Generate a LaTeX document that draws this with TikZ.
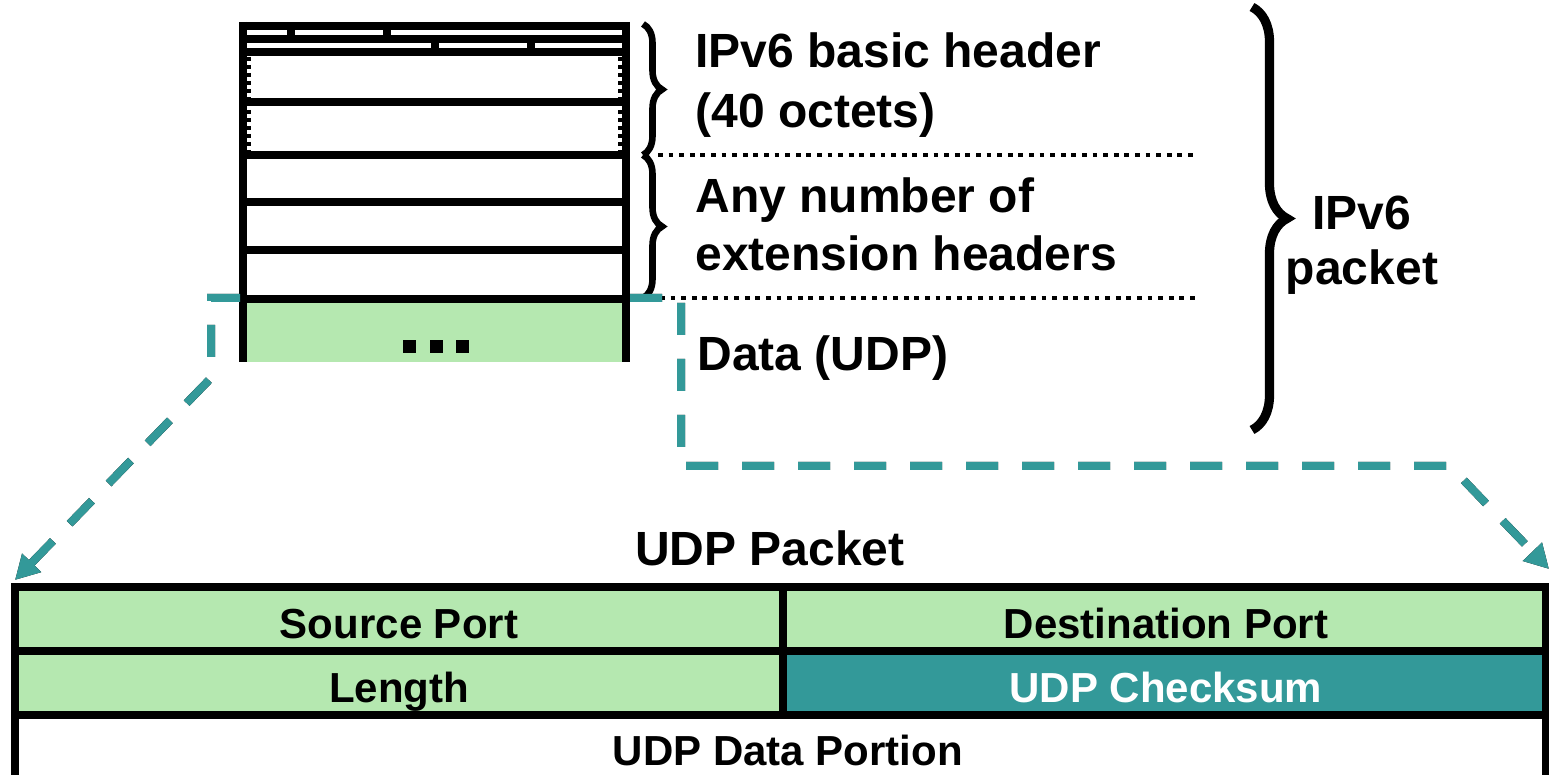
\documentclass[tikz,border=0pt]{standalone}
\usepackage{fontspec}
\setmainfont{Liberation Sans}
\usetikzlibrary{arrows.meta,decorations.pathreplacing}
\definecolor{udpgreen}{HTML}{B5E8B0}
\definecolor{udpteal}{HTML}{339999}

\begin{document}
\begin{tikzpicture}[x=0.5pt,y=-0.5pt,
  bigtext/.style={font=\fontsize{24pt}{28pt}\selectfont\bfseries, inner sep=0pt, anchor=base west},
  celltext/.style={font=\fontsize{21pt}{25pt}\selectfont\bfseries, inner sep=0pt, anchor=base},
  rule/.style={line width=4pt},
  skipped/.style={line width=2pt, dash pattern=on 2pt off 2pt},
  dotline/.style={line width=2.4pt, dash pattern=on 2.4pt off 2.9pt},
  smallbrace/.style={line width=3.3pt, decorate, decoration={brace, amplitude=9.5pt}},
  bigbrace/.style={line width=4.6pt, decorate, decoration={brace, amplitude=17.5pt}},
  zoomline/.style={line width=4pt, dash pattern=on 16pt off 12pt, line join=miter},
  zoomtip/.style={-{Triangle[length=12pt,width=12.5pt]}}
]
\useasboundingbox (0,0) rectangle (1549,775);

% ---------- IPv6 header stack ----------
\fill[udpgreen] (247,303) rectangle (622,362);
\draw[rule] (243,22) -- (243,362);
\draw[rule] (626,22) -- (626,362);
\foreach \yy in {26,39.5,52.5,102.5,155.5,202,250,299}
  \draw[rule] (239,\yy) -- (630,\yy);
% field separators in the first two header words
\draw[rule] (291,26) -- (291,39.5);
\draw[rule] (387,26) -- (387,39.5);
\draw[rule] (435,39.5) -- (435,52.5);
\draw[rule] (531,39.5) -- (531,52.5);
% elided rows of the basic header
\foreach \xx in {249,620} {
  \draw[skipped] (\xx,57) -- (\xx,98);
  \draw[skipped] (\xx,110) -- (\xx,151);
}
% ellipsis in the data row
\foreach \xx in {403,429.5,456}
  \fill (\xx,340) rectangle ++(13,13);

% ---------- braces and separators ----------
\draw[smallbrace] (643,24) -- (643,155);
\draw[smallbrace] (643,155) -- (643,298);
\draw[bigbrace] (1252,7) -- (1252,430);
\draw[dotline] (658,155) -- (1197,155);
\draw[dotline] (660,298) -- (1197,298);

% ---------- labels ----------
\node[bigtext] (hdrA) at (695,68) {IPv6 basic header};
\node[bigtext] (hdrB) at (695,128) {(40 octets)};
\node[bigtext] (extA) at (695,213) {Any number of};
\node[bigtext] (extB) at (695,271) {extension headers};
\node[bigtext] (data) at (697,371) {Data (UDP)};
\node[bigtext, anchor=base] (pktA) at (1362,230) {IPv6};
\node[bigtext, anchor=base] (pktB) at (1362,285) {packet};

% ---------- UDP packet table ----------
\fill[udpgreen] (15,587) rectangle (1545.5,651);
\fill[udpgreen] (15,651) rectangle (783,715);
\fill[udpteal] (783,651) rectangle (1545.5,715);
\draw[rule] (11,587) -- (1549.5,587);
\draw[rule] (11,651) -- (1549.5,651);
\draw[rule] (11,715) -- (1549.5,715);
\draw[rule] (15,583) -- (15,780);
\draw[rule] (1545.5,583) -- (1545.5,780);
\draw[rule] (783,587) -- (783,715);

\node[bigtext, anchor=base] (title) at (770,565) {UDP Packet};
\node[celltext] (src) at (399,638) {Source Port};
\node[celltext] (dst) at (1166,638) {Destination Port};
\node[celltext] (len) at (399,702) {Length};
\node[celltext, text=white] (chk) at (1166,702) {UDP Checksum};
\node[celltext] (payload) at (788,765) {UDP Data Portion};

% ---------- zoom-in connectors ----------
\coordinate (sL) at (240,298);
\coordinate (cLa) at (211,298);
\coordinate (cLb) at (211,378);
\coordinate (tL) at (15,580);
\coordinate (sR) at (630,298);
\coordinate (cRa) at (681,298);
\coordinate (cRb) at (681,466);
\coordinate (cRc) at (1450,466);
\coordinate (tR) at (1549,569);

% drop shadow under the connectors
\begin{scope}[shift={(3.5,3.5)}]
  \draw[zoomline, zoomtip, black] (sL) -- (cLa) -- (cLb) -- (tL);
  \draw[zoomline, zoomtip, black] (sR) -- (cRa) -- (cRb) -- (cRc) -- (tR);
\end{scope}
\draw[zoomline, zoomtip, udpteal] (sL) -- (cLa) -- (cLb) -- (tL);
\draw[zoomline, zoomtip, udpteal] (sR) -- (cRa) -- (cRb) -- (cRc) -- (tR);
\end{tikzpicture}
\end{document}
